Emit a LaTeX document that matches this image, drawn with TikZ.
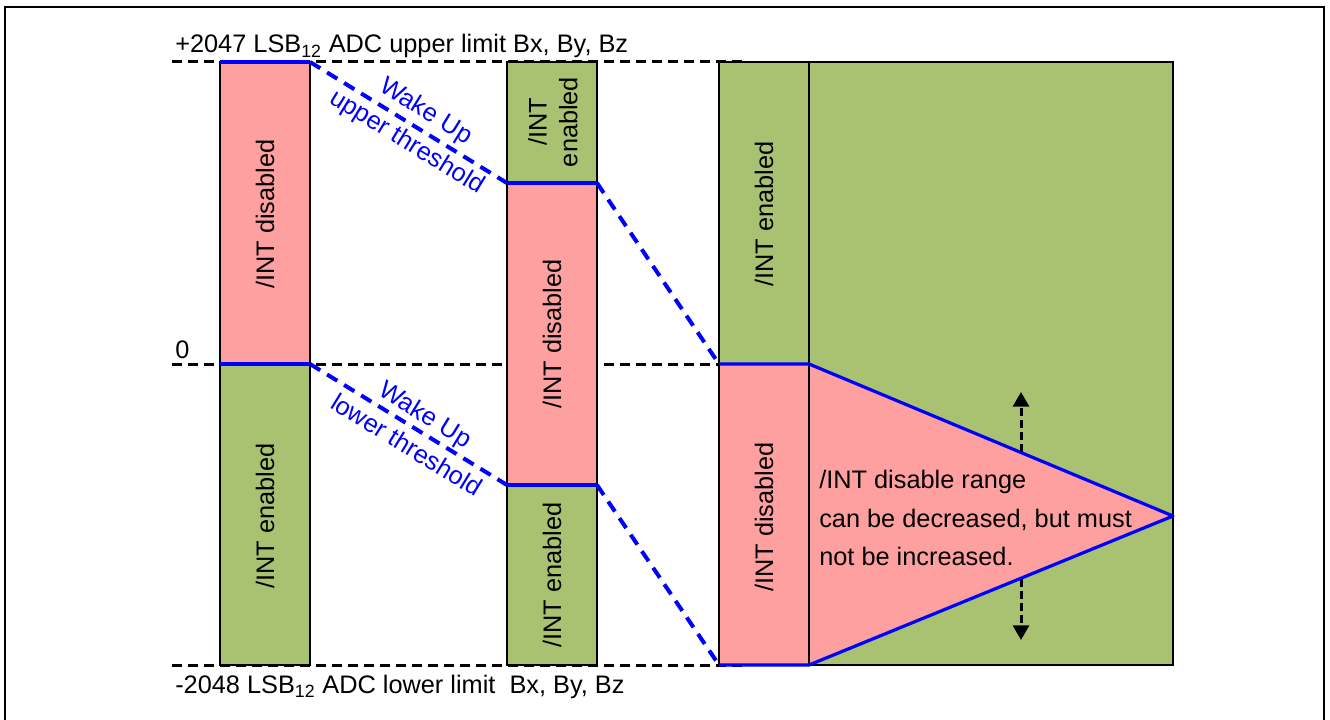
\documentclass[tikz,border=0pt]{standalone}
\usepackage{fontspec}
\setmainfont{Liberation Sans}
\usetikzlibrary{arrows.meta}
\definecolor{offpink}{RGB}{255,160,160}
\definecolor{ongreen}{RGB}{169,194,113}
\begin{document}
\begin{tikzpicture}[x=0.75pt,y=0.75pt,yscale=-1,xscale=1,
  txt/.style={inner sep=0.75pt, font=\fontsize{19}{23}\selectfont},
  vtxt/.style={txt, rotate=90, align=center},
  wake/.style={txt, color=blue, align=center, rotate=-31.6, font=\fontsize{19}{27}\selectfont},
  band/.style={line width=1.5},
  limit/.style={line width=2.25, dash pattern={on 7.5pt off 4.5pt}},
  thr/.style={color=blue, line width=2.4},
  thrdash/.style={color=blue, line width=3, dash pattern={on 9pt off 6pt}},
  movearrow/.style={line width=2.25, dash pattern={on 6pt off 3pt}, -{Triangle[width=12pt,length=11pt]}},
  ]
\useasboundingbox (0,0) rectangle (1330,720);
%frame
\draw [line width=1] (5,7) rectangle (1324,722);

%threshold corners
\coordinate (u0L) at (220,62);  \coordinate (u0R) at (310,62);
\coordinate (l0L) at (220,364); \coordinate (l0R) at (310,364);
\coordinate (u1L) at (507,183); \coordinate (u1R) at (597,183);
\coordinate (l1L) at (507,485); \coordinate (l1R) at (597,485);
\coordinate (u2L) at (719,364); \coordinate (u2R) at (809,364);
\coordinate (l2L) at (719,665); \coordinate (l2R) at (809,665);
\coordinate (apex) at (1173,516);

%ADC limits and zero
\draw [limit] (172,62) -- (745,62);
\draw [limit] (172,364) -- (719,364);
\draw [limit] (172,665) -- (745,665);

%column 1
\draw [band, fill=offpink] (220,62) rectangle (310,364);
\draw [band, fill=ongreen] (220,364) rectangle (310,665);
%column 2
\draw [band, fill=ongreen] (507,62) rectangle (597,183);
\draw [band, fill=offpink] (507,183) rectangle (597,485);
\draw [band, fill=ongreen] (507,485) rectangle (597,665);
%column 3
\draw [band, fill=ongreen] (719,62) rectangle (809,364);
\draw [band, fill=offpink] (719,364) rectangle (809,665);
%column 4
\draw [band, fill=ongreen] (809,62) rectangle (1173,665);
\fill [offpink] (u2R) -- (apex) -- (l2R) -- cycle;
\draw [band] (809,62) -- (809,665);

%thresholds
\draw [thr] (u0L) -- (u0R);
\draw [thr] (l0L) -- (l0R);
\draw [thr] (u1L) -- (u1R);
\draw [thr] (l1L) -- (l1R);
\draw [thr, line join=round] (u2L) -- (u2R) -- (apex) -- (l2R) -- (l2L);
\draw [thrdash] (u0R) -- node [wake, pos=0.54] {Wake Up\\upper threshold} (u1L);
\draw [thrdash] (l0R) -- node [wake, pos=0.54] {Wake Up\\lower threshold} (l1L);
\draw [thrdash] (u1R) -- (u2L);
\draw [thrdash] (l1R) -- (l2L);

%range arrows
\coordinate (upFrom) at (1021,452); \coordinate (upTo) at (1021,392);
\coordinate (dnFrom) at (1021,579); \coordinate (dnTo) at (1021,640);
\draw [movearrow] (upFrom) -- (upTo);
\draw [movearrow] (dnFrom) -- (dnTo);

% Text Node
\node (hiLim) [txt, anchor=base west] at (174,53) {+2047 LSB\textsubscript{12} ADC upper limit Bx, By, Bz};
\node (loLim) [txt, anchor=base west] at (174,693) {-2048 LSB\textsubscript{12} ADC lower limit\ \ Bx, By, Bz};
\node (zero) [txt, anchor=base west] at (174,358) {0};
\node (c1a) [vtxt] at (265,214) {/INT disabled};
\node (c1b) [vtxt] at (265,516) {/INT enabled};
\node (c2a) [vtxt, font=\fontsize{19}{23}\selectfont] at (553,122) {/INT\\enabled};
\node (c2b) [vtxt] at (552,334) {/INT disabled};
\node (c2c) [vtxt] at (552,575) {/INT enabled};
\node (c3a) [vtxt] at (764,214) {/INT enabled};
\node (c3b) [vtxt] at (764,517) {/INT disabled};
\node (note) [txt, anchor=west, align=left, font=\fontsize{19}{29}\selectfont] at (818,518) {/INT disable range\\can be decreased, but must\\not be increased.};
\end{tikzpicture}
\end{document}
